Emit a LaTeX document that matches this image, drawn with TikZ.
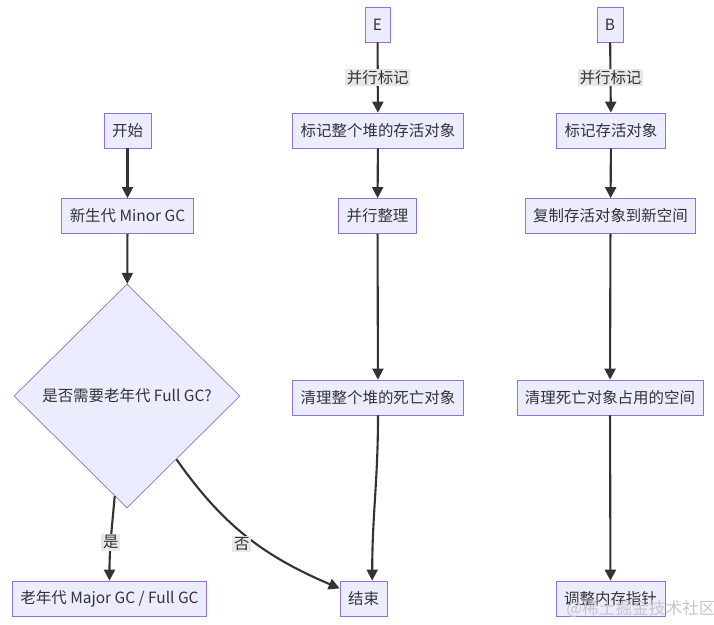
\documentclass[tikz,border=0pt]{standalone}
\usepackage{fontspec}
\setmainfont{Noto Sans CJK SC}
\usepackage{tikz}
\usetikzlibrary{arrows.meta, positioning, shapes.geometric}
\definecolor{boxFill}{HTML}{ECECFF}
\definecolor{boxLine}{HTML}{9370DB}
\definecolor{edgeLine}{HTML}{333333}
\definecolor{lblFill}{HTML}{E8E8E8}

\begin{document}
\begin{tikzpicture}[
x=0.02cm, y=-0.02cm,
box/.style={
draw=boxLine,
fill=boxFill,
minimum height=0.7cm,
inner xsep=0.16cm,
font=\fontsize{8.8}{10.5}\selectfont,
text=black!80
},
decision/.style={
diamond,
draw=boxLine,
fill=boxFill,
minimum width=4.52cm,
minimum height=4.48cm,
inner sep=0pt,
font=\fontsize{8.8}{10.5}\selectfont,
text=black!80
},
arrow/.style={-{Triangle[length=2.2mm, width=2.2mm]}, line width=1.2pt, edgeLine},
lbl/.style={fill=lblFill, inner sep=1pt, font=\fontsize{8.8}{10.5}\selectfont, text=black!80}
]
\useasboundingbox (0,0) rectangle (714,625);

% left column
\node[box] (start) at (127.5,130.5) {开始};
\node[box] (minor) at (127.5,216) {新生代 Minor GC};
\node[decision] (full) at (127,396) {是否需要老年代 Full GC?};
\node[box] (major) at (109.5,598.5) {老年代 Major GC / Full GC};
\node[box] (stop) at (363.5,598.5) {结束};

% middle column
\node[box] (e) at (377.5,24.5) {E};
\node[box] (markall) at (378,130.5) {标记整个堆的存活对象};
\node[box] (compact) at (377.5,216) {并行整理};
\node[box] (sweepall) at (378,397.5) {清理整个堆的死亡对象};

% right column
\node[box] (b) at (610,24.5) {B};
\node[box] (marklive) at (611,130.5) {标记存活对象};
\node[box] (copy) at (610.5,216) {复制存活对象到新空间};
\node[box] (sweep) at (610,397.5) {清理死亡对象占用的空间};
\node[box] (pointer) at (610.5,598.5) {调整内存指针};

\draw[arrow] (start) -- (minor);
\draw[arrow] (minor) -- (full);
\draw[arrow] (full.-97) to[out=-95, in=90] node[lbl, pos=0.55] {是} (major.north);
\draw[arrow] (full.-52) to[out=-55, in=157] node[lbl, pos=0.56, xshift=-0.3cm] {否} (stop.157);

\draw[arrow] (e) -- node[lbl] {并行标记} (markall);
\draw[arrow] (markall) -- (compact);
\draw[arrow] (compact) -- (sweepall);
\draw[arrow] (sweepall.south) to[out=-90, in=90] (stop.64);

\draw[arrow] (b) -- node[lbl] {并行标记} (marklive);
\draw[arrow] (marklive) -- (copy);
\draw[arrow] (copy) -- (sweep);
\draw[arrow] (sweep) -- (pointer);

\node[text=gray!45, font=\fontsize{9.5}{11}\selectfont] (mark) at (641,609) {@稀土掘金技术社区};
\end{tikzpicture}
\end{document}
